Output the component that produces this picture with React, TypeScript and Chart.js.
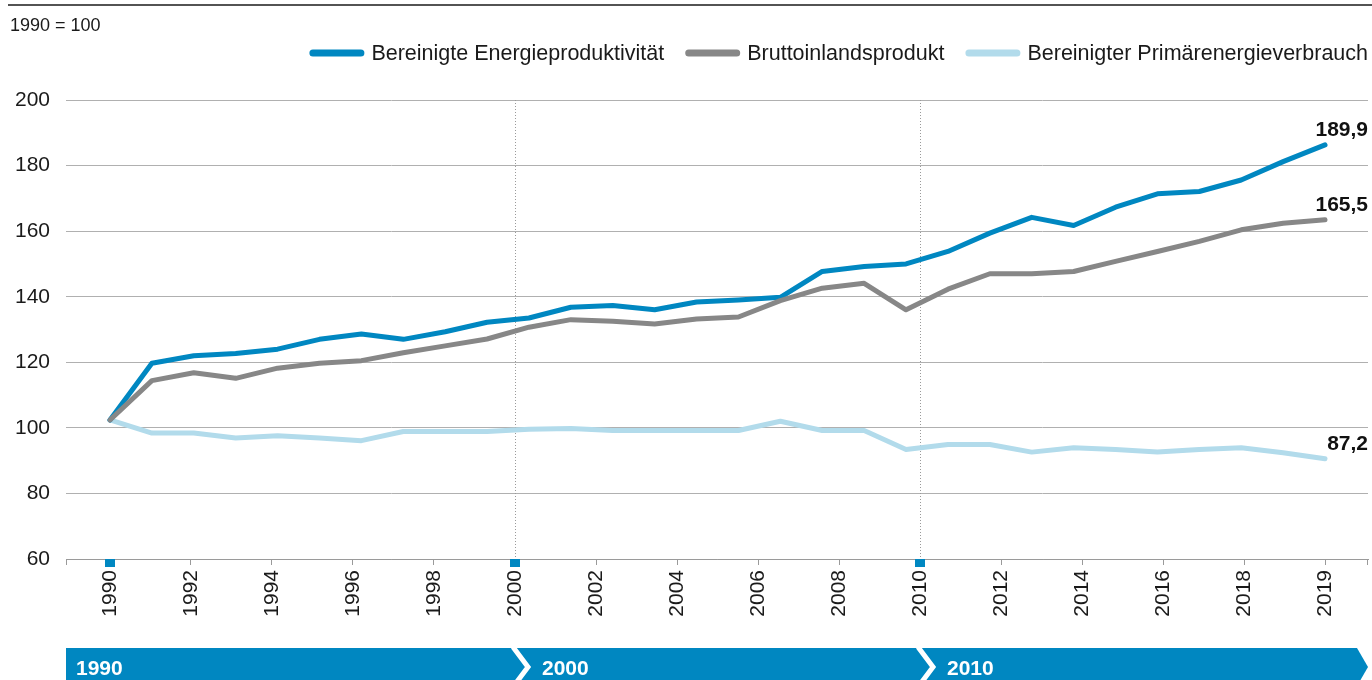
import React, { useEffect, useRef } from "react";
import { Chart, registerables } from "chart.js";

Chart.register(...registerables);

// ---------- data ----------
const years = [
  1990, 1991, 1992, 1993, 1994, 1995, 1996, 1997, 1998, 1999,
  2000, 2001, 2002, 2003, 2004, 2005, 2006, 2007, 2008, 2009,
  2010, 2011, 2012, 2013, 2014, 2015, 2016, 2017, 2018, 2019,
];
const energyProductivity = [
  102.4, 119.7, 122.0, 122.7, 124.0, 127.0, 128.6, 127.0, 129.3, 132.2,
  133.5, 136.8, 137.3, 136.0, 138.4, 139.0, 139.8, 147.7, 149.2, 150.0,
  153.8, 159.4, 164.2, 161.7, 167.3, 171.4, 172.1, 175.6, 181.2, 186.3,
];
const gdp = [
  102.4, 114.4, 116.8, 115.1, 118.2, 119.7, 120.5, 122.9, 125.0, 127.1,
  130.7, 133.0, 132.5, 131.7, 133.2, 133.8, 138.8, 142.6, 144.1, 136.0,
  142.3, 147.0, 147.0, 147.7, 150.8, 153.8, 156.9, 160.4, 162.4, 163.5,
];
const primaryEnergy = [
  102.4, 98.4, 98.4, 96.9, 97.6, 96.9, 96.1, 98.9, 98.9, 98.9,
  99.6, 99.8, 99.2, 99.2, 99.2, 99.2, 102.0, 99.2, 99.2, 93.4,
  94.9, 94.9, 92.6, 93.9, 93.4, 92.6, 93.4, 93.9, 92.4, 90.6,
];
const seriesNames = [
  "Bereinigte Energieproduktivität",
  "Bruttoinlandsprodukt",
  "Bereinigter Primärenergieverbrauch",
];
const endLabels = ["189,9", "165,5", "87,2"];
const tickLabels = [
  "1990", "1992", "1994", "1996", "1998", "2000", "2002", "2004",
  "2006", "2008", "2010", "2012", "2014", "2016", "2018", "2019",
];
const eraLabels = ["1990", "2000", "2010"];
const eraTickIndex = [0, 5, 10];
const subtitle = "1990 = 100";
const yMin = 60;
const yMax = 200;
const yStep = 20;

// ---------- styles ----------
const FONT = "'Liberation Sans', Arial, sans-serif";
const BLUE = "#0087c1";
const GRAY = "#878787";
const LIGHT = "#b2dbeb";
const colors = [BLUE, GRAY, LIGHT];
const drawOrder = [1, 0, 2];
const X_PAD_BEFORE = 1.05;
const X_PAD_AFTER = 1.026;

const tickValue = (k: number) =>
  years[0] + (k * (years[years.length - 1] - years[0])) / (tickLabels.length - 1);

const overlayPlugin = {
  id: "overlay",
  beforeDatasetsDraw(chart: any) {
    const { ctx, chartArea, scales } = chart;
    const xs = scales.x;
    ctx.save();
    ctx.strokeStyle = "#9a9a9a";
    ctx.lineWidth = 1;
    ctx.setLineDash([1, 2]);
    [5, 10].forEach((k) => {
      const px = Math.round(xs.getPixelForValue(tickValue(k))) + 0.5;
      ctx.beginPath();
      ctx.moveTo(px, chartArea.top);
      ctx.lineTo(px, chartArea.bottom);
      ctx.stroke();
    });
    ctx.restore();
  },
  afterDraw(chart: any) {
    const { ctx, chartArea, scales } = chart;
    const xs = scales.x;
    const ys = scales.y;
    ctx.save();

    // top rule
    ctx.strokeStyle = "#1a1a1a";
    ctx.lineWidth = 1.5;
    ctx.beginPath();
    ctx.moveTo(8, 5);
    ctx.lineTo(chart.width, 5);
    ctx.stroke();

    // subtitle
    ctx.fillStyle = "#1a1a1a";
    ctx.font = `18px ${FONT}`;
    ctx.textAlign = "left";
    ctx.textBaseline = "alphabetic";
    ctx.fillText(subtitle, 10, 31);

    // legend (right aligned)
    ctx.font = `21.5px ${FONT}`;
    const lineLen = 55;
    const gapText = 7;
    const gapItem = 21;
    let x = chartArea.right;
    const legendY = 53;
    for (let i = seriesNames.length - 1; i >= 0; i--) {
      const w = ctx.measureText(seriesNames[i]).width;
      const textX = x - w;
      ctx.fillStyle = "#1a1a1a";
      ctx.textBaseline = "middle";
      ctx.fillText(seriesNames[i], textX, legendY + 1);
      const lx1 = textX - gapText;
      const lx0 = lx1 - lineLen;
      ctx.strokeStyle = colors[i];
      ctx.lineWidth = 7;
      ctx.lineCap = "round";
      ctx.beginPath();
      ctx.moveTo(lx0 + 3.5, legendY);
      ctx.lineTo(lx1 - 3.5, legendY);
      ctx.stroke();
      x = lx0 - gapItem;
    }
    ctx.lineCap = "butt";

    // tick marks at axis ends
    ctx.strokeStyle = "#9a9a9a";
    ctx.lineWidth = 1;
    [chartArea.left + 0.5, chartArea.right - 0.5].forEach((px) => {
      ctx.beginPath();
      ctx.moveTo(px, chartArea.bottom);
      ctx.lineTo(px, chartArea.bottom + 6);
      ctx.stroke();
    });

    // blue squares on axis
    ctx.fillStyle = BLUE;
    eraTickIndex.forEach((k) => {
      const px = xs.getPixelForValue(tickValue(k));
      ctx.fillRect(Math.round(px - 5), chartArea.bottom, 10, 8);
    });

    // end labels
    ctx.font = `bold 21px ${FONT}`;
    ctx.fillStyle = "#111";
    ctx.textAlign = "right";
    ctx.textBaseline = "alphabetic";
    const lastIdx = years.length - 1;
    [energyProductivity, gdp, primaryEnergy].forEach((arr, i) => {
      const py = ys.getPixelForValue(arr[lastIdx]);
      ctx.fillText(endLabels[i], chartArea.right, py - 9);
    });

    // bottom era band
    const top = 648;
    const bot = 686;
    const mid = (top + bot) / 2;
    const left = chartArea.left;
    const right = chartArea.right;
    ctx.fillStyle = BLUE;
    ctx.beginPath();
    ctx.moveTo(left, top);
    ctx.lineTo(right - 11, top);
    ctx.lineTo(right, mid);
    ctx.lineTo(right - 11, bot);
    ctx.lineTo(left, bot);
    ctx.closePath();
    ctx.fill();

    ctx.strokeStyle = "#ffffff";
    ctx.lineWidth = 5;
    ctx.lineJoin = "miter";
    eraTickIndex.forEach((k, j) => {
      if (j === 0) return;
      const px = xs.getPixelForValue(tickValue(k));
      ctx.beginPath();
      ctx.moveTo(px - 2, top - 1);
      ctx.lineTo(px + 13, mid);
      ctx.lineTo(px - 2, bot + 1);
      ctx.stroke();
    });

    ctx.fillStyle = "#ffffff";
    ctx.font = `bold 21px ${FONT}`;
    ctx.textAlign = "left";
    eraTickIndex.forEach((k, j) => {
      const px = j === 0 ? left + 10 : xs.getPixelForValue(tickValue(k)) + 27;
      ctx.fillText(eraLabels[j], px, 675);
    });

    ctx.restore();
  },
};

export default function App() {
  const canvasRef = useRef<HTMLCanvasElement | null>(null);

  useEffect(() => {
    if (!canvasRef.current) return;
    const seriesValues = [energyProductivity, gdp, primaryEnergy];
    const chart = new Chart(canvasRef.current, {
      type: "line",
      data: {
        datasets: seriesValues.map((arr, i) => ({
          label: seriesNames[i],
          data: years.map((yr, j) => ({ x: yr, y: arr[j] })),
          borderColor: colors[i],
          backgroundColor: colors[i],
          borderWidth: 5,
          borderJoinStyle: "round" as const,
          borderCapStyle: "round" as const,
          pointRadius: 0,
          tension: 0,
          order: drawOrder[i],
        })),
      },
      options: {
        responsive: false,
        animation: false,
        layout: { padding: { top: 100, right: 4, left: 0, bottom: 0 } },
        plugins: {
          legend: { display: false },
          tooltip: { enabled: false },
          title: { display: false },
        },
        scales: {
          x: {
            type: "linear",
            min: years[0] - X_PAD_BEFORE,
            max: years[years.length - 1] + X_PAD_AFTER,
            afterBuildTicks: (scale: any) => {
              scale.ticks = tickLabels.map((_, k) => ({ value: tickValue(k) }));
            },
            afterFit: (scale: any) => {
              scale.height = 121;
            },
            ticks: {
              autoSkip: false,
              maxRotation: 90,
              minRotation: 90,
              padding: 5,
              color: "#1a1a1a",
              font: { family: FONT, size: 21 },
              callback: (_v: any, index: number) => tickLabels[index],
            },
            grid: {
              drawOnChartArea: false,
              drawTicks: true,
              tickLength: 6,
              color: "#9a9a9a",
              lineWidth: 1,
            },
            border: { display: true, color: "#9a9a9a", width: 1 },
          },
          y: {
            min: yMin,
            max: yMax,
            afterFit: (scale: any) => {
              scale.width = 66;
            },
            ticks: {
              stepSize: yStep,
              padding: 16,
              color: "#1a1a1a",
              font: { family: FONT, size: 21 },
            },
            grid: {
              drawTicks: false,
              color: "#b0b0b0",
              lineWidth: 1,
            },
            border: { display: false },
          },
        },
      },
      plugins: [overlayPlugin],
    });
    return () => chart.destroy();
  }, []);

  return (
    <div style={{ position: "absolute", left: 0, top: 0, width: 1372, height: 680, background: "#fff" }}>
      <canvas ref={canvasRef} width={1372} height={680} style={{ display: "block" }} />
    </div>
  );
}
